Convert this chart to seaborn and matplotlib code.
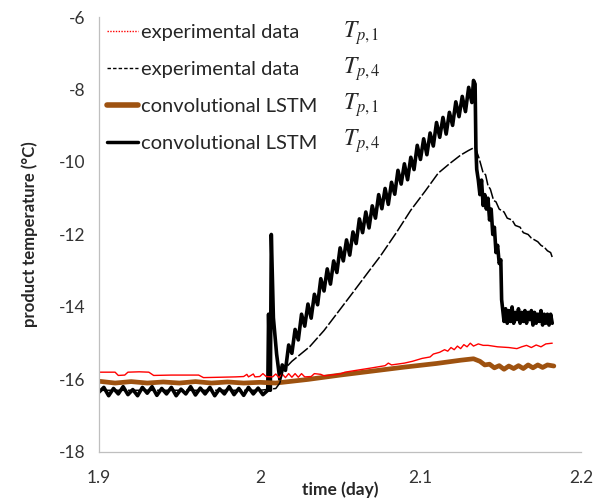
import numpy as np
import pandas as pd
import matplotlib
matplotlib.use("Agg")
import matplotlib.pyplot as plt
import seaborn as sns
from matplotlib.lines import Line2D

# ---------------- data ----------------
# experimental data T_p,1 (red)
exp1_t = [1.900, 1.910, 1.912, 1.916, 1.918, 1.925, 1.931, 1.934, 1.945, 1.955, 1.962, 1.965,
          1.975, 1.985, 1.990, 1.992, 1.993, 1.996, 1.997, 2.000, 2.002, 2.004, 2.008, 2.010,
          2.012, 2.014, 2.016, 2.018, 2.020, 2.022, 2.024, 2.026, 2.028, 2.032, 2.034, 2.038,
          2.040, 2.050, 2.053, 2.060, 2.070, 2.078, 2.080, 2.082, 2.090, 2.095, 2.101, 2.106,
          2.108, 2.112, 2.115, 2.117, 2.119, 2.121, 2.123, 2.125, 2.127, 2.129, 2.131, 2.133,
          2.136, 2.139, 2.142, 2.148, 2.155, 2.160, 2.163, 2.166, 2.169, 2.172, 2.175, 2.178,
          2.182]
exp1_v = [-15.80, -15.80, -15.89, -15.88, -15.80, -15.79, -15.80, -15.89, -15.88, -15.88, -15.88, -15.95,
          -15.94, -15.93, -15.92, -15.86, -15.93, -15.85, -15.93, -15.92, -15.84, -15.92, -15.93, -15.85,
          -15.95, -15.85, -15.95, -15.84, -15.94, -15.84, -15.94, -15.84, -15.93, -15.92, -15.84, -15.86,
          -15.90, -15.85, -15.80, -15.75, -15.68, -15.62, -15.55, -15.60, -15.55, -15.50, -15.42, -15.38,
          -15.30, -15.25, -15.18, -15.22, -15.12, -15.18, -15.08, -15.15, -15.04, -15.10, -15.00, -15.08,
          -15.02, -15.06, -15.06, -15.10, -15.12, -15.15, -15.10, -15.06, -15.12, -15.05, -15.10, -15.02,
          -15.00]

# experimental data T_p,4 (thin black)
exp4_t = [1.900, 1.950, 2.000, 2.010, 2.0125, 2.0146, 2.020, 2.031, 2.040, 2.046, 2.058, 2.069,
          2.075, 2.085, 2.094, 2.103, 2.111, 2.118, 2.125, 2.130, 2.134, 2.1365, 2.139, 2.1405,
          2.142, 2.1435, 2.1455, 2.147, 2.149, 2.152, 2.154, 2.157, 2.159, 2.162, 2.164, 2.167,
          2.169, 2.171, 2.173, 2.175, 2.177, 2.179, 2.181, 2.182]
exp4_v = [-16.30, -16.30, -16.30, -16.25, -16.10, -15.75, -15.50, -15.10, -14.65, -14.30, -13.60, -12.95,
          -12.60, -11.95, -11.33, -10.80, -10.31, -10.05, -9.81, -9.68, -9.59, -9.90, -10.30, -10.35,
          -10.65, -10.75, -11.06, -11.10, -11.30, -11.38, -11.55, -11.60, -11.75, -11.80, -11.95, -12.00,
          -12.10, -12.15, -12.20, -12.30, -12.35, -12.45, -12.50, -12.63]

# convolutional LSTM T_p,1 (brown)
lstm1_t = [1.900, 1.910, 1.920, 1.930, 1.940, 1.950, 1.960, 1.970, 1.980, 1.990, 2.000, 2.010,
           2.030, 2.050, 2.070, 2.090, 2.110, 2.125, 2.133, 2.137, 2.140, 2.143, 2.146, 2.149,
           2.152, 2.155, 2.158, 2.161, 2.164, 2.167, 2.170, 2.173, 2.176, 2.179, 2.183]
lstm1_v = [-16.05, -16.10, -16.06, -16.10, -16.07, -16.10, -16.06, -16.10, -16.07, -16.10, -16.08, -16.10,
           -16.00, -15.88, -15.77, -15.66, -15.56, -15.47, -15.43, -15.50, -15.60, -15.58, -15.68, -15.62,
           -15.72, -15.63, -15.70, -15.62, -15.70, -15.60, -15.68, -15.60, -15.67, -15.60, -15.63]

# convolutional LSTM T_p,4 (thick black), in segments
lstm4_flat_t = [1.900, 1.903, 1.906, 1.909, 1.912, 1.915, 1.918, 1.921, 1.924, 1.927, 1.930, 1.933,
                1.936, 1.939, 1.942, 1.945, 1.948, 1.951, 1.954, 1.957, 1.960, 1.963, 1.966, 1.969,
                1.972, 1.975, 1.978, 1.981, 1.984, 1.987, 1.990, 1.993, 1.996, 1.999, 2.002]
lstm4_flat_v = [-16.35, -16.22, -16.45, -16.25, -16.40, -16.20, -16.42, -16.28, -16.45, -16.22, -16.38, -16.20,
                -16.44, -16.25, -16.40, -16.22, -16.45, -16.27, -16.40, -16.20, -16.43, -16.24, -16.40, -16.22,
                -16.45, -16.26, -16.40, -16.20, -16.42, -16.25, -16.44, -16.22, -16.40, -16.24, -16.42]
lstm4_spike_t = [2.005, 2.0055, 2.0062, 2.0066, 2.0072, 2.0085, 2.0105, 2.0125]
lstm4_spike_v = [-16.30, -14.20, -15.80, -16.30, -12.00, -14.30, -15.30, -16.00]
lstm4_rise_t = [2.014, 2.016, 2.018, 2.020, 2.022, 2.024, 2.026, 2.028, 2.030, 2.032,
                2.034, 2.036, 2.038, 2.040, 2.042, 2.044, 2.046, 2.048, 2.050, 2.052,
                2.054, 2.056, 2.058, 2.060, 2.062, 2.064, 2.066, 2.068, 2.070, 2.072,
                2.074, 2.076, 2.078, 2.080, 2.082, 2.084, 2.086, 2.088, 2.090, 2.092,
                2.094, 2.096, 2.098, 2.100, 2.102, 2.104, 2.106, 2.108, 2.110, 2.112,
                2.114, 2.116, 2.118, 2.120, 2.122, 2.124, 2.126, 2.128, 2.130, 2.132]
lstm4_rise_v = [-15.60, -15.75, -15.05, -15.28, -14.62, -14.91, -14.20, -14.53, -13.92, -14.31,
                -13.65, -13.94, -13.22, -13.56, -12.95, -13.37, -12.73, -13.05, -12.37, -12.73,
                -12.15, -12.57, -11.93, -12.25, -11.57, -11.95, -11.38, -11.82, -11.21, -11.55,
                -10.90, -11.29, -10.73, -11.17, -10.56, -10.89, -10.23, -10.61, -10.05, -10.49,
                -9.87, -10.21, -9.54, -9.93, -9.36, -9.80, -9.20, -9.56, -8.91, -9.32,
                -8.77, -9.23, -8.63, -8.99, -8.34, -8.75, -8.19, -8.61, -7.94, -8.36]
lstm4_drop_t = [2.133, 2.134, 2.1345, 2.135, 2.136, 2.137, 2.138, 2.139, 2.140, 2.141,
                2.142, 2.143, 2.144, 2.145, 2.146, 2.147, 2.148, 2.149, 2.150, 2.1505]
lstm4_drop_v = [-7.75, -7.85, -9.60, -10.20, -10.50, -10.90, -10.50, -11.20, -10.90, -11.30,
                -11.00, -11.60, -11.30, -12.00, -11.80, -12.50, -12.30, -12.80, -12.70, -13.80]
lstm4_tail_t = [2.151, 2.152, 2.153, 2.154, 2.155, 2.156, 2.157, 2.158,
                2.159, 2.160, 2.161, 2.162, 2.163, 2.164, 2.165, 2.166,
                2.167, 2.168, 2.169, 2.170, 2.171, 2.172, 2.173, 2.174,
                2.175, 2.176, 2.177, 2.178, 2.179, 2.180, 2.181, 2.182]
lstm4_tail_v = [-14.00, -14.40, -14.05, -14.45, -14.10, -14.40, -14.00, -14.45,
                -14.15, -14.35, -14.05, -14.45, -14.15, -14.40, -14.10, -14.45,
                -14.15, -14.35, -14.10, -14.50, -14.15, -14.45, -14.20, -14.40,
                -14.10, -14.50, -14.20, -14.45, -14.20, -14.50, -14.20, -14.45]

lstm4_t = lstm4_flat_t + lstm4_spike_t + lstm4_rise_t + lstm4_drop_t + lstm4_tail_t
lstm4_v = lstm4_flat_v + lstm4_spike_v + lstm4_rise_v + lstm4_drop_v + lstm4_tail_v

legend_labels = ["experimental data", "experimental data", "convolutional LSTM", "convolutional LSTM"]
math_labels = [r"$T_{p,1}$", r"$T_{p,4}$", r"$T_{p,1}$", r"$T_{p,4}$"]
x_ticks = [1.9, 2.0, 2.1, 2.2]
x_tick_labels = ["1.9", "2", "2.1", "2.2"]
y_ticks = [-18, -16, -14, -12, -10, -8, -6]

# ---------------- plot ----------------
sns.set_style("white")
plt.rcParams["font.family"] = ["Lato", "DejaVu Sans"]
plt.rcParams["mathtext.fontset"] = "stix"

BROWN = "#9E5210"
RED = "#FF0000"

fig = plt.figure(figsize=(6.15, 5.01), dpi=100)
ax = fig.add_axes([0.161, 0.098, 0.784, 0.868])

kw = dict(ax=ax, estimator=None, sort=False, legend=False)
sns.lineplot(x=lstm4_t, y=lstm4_v, color="black", linewidth=2.6, **kw)
sns.lineplot(x=lstm1_t, y=lstm1_v, color=BROWN, linewidth=3.4, **kw)
sns.lineplot(x=exp1_t, y=exp1_v, color=RED, linewidth=1.0, **kw)
sns.lineplot(x=exp4_t, y=exp4_v, color="black", linewidth=1.1, linestyle=(0, (8, 1.5)), **kw)

ax.set_xlim(1.9, 2.2)
ax.set_ylim(-18, -6)
ax.set_xticks(x_ticks)
ax.set_xticklabels(x_tick_labels)
ax.set_yticks(y_ticks)
ax.set_yticklabels([str(v) for v in y_ticks])

for s in ["top", "right"]:
    ax.spines[s].set_visible(False)
for s in ["left", "bottom"]:
    ax.spines[s].set_color("#BFBFBF")
    ax.spines[s].set_linewidth(0.9)

ax.tick_params(axis="both", direction="out", length=4, width=0.9, color="#BFBFBF",
               labelsize=12.5, labelcolor="#333333")
ax.tick_params(axis="y", pad=6)
ax.tick_params(axis="x", pad=9)

ax.set_ylabel("product temperature (°C)", fontsize=12, fontweight="bold", labelpad=15)
ax.set_xlabel("time (day)", fontsize=12.5, fontweight="bold", labelpad=-3)

handles = [
    Line2D([], [], color=RED, lw=1.0, ls=(0, (1, 1))),
    Line2D([], [], color="black", lw=1.0, ls=(0, (2.5, 1.5))),
    Line2D([], [], color=BROWN, lw=4),
    Line2D([], [], color="black", lw=2.5),
]
ax.legend(handles, legend_labels, loc="upper left", bbox_to_anchor=(0.016, 0.985),
          frameon=False, fontsize=14.5, handlelength=1.55, handletextpad=0.15,
          labelspacing=1.0, borderpad=0, borderaxespad=0)

math_y = [0.952, 0.869, 0.786, 0.703]
for lab, yy in zip(math_labels, math_y):
    ax.text(0.506, yy, lab, transform=ax.transAxes, fontsize=17, va="baseline", ha="left")

fig.savefig("out.png", dpi=100)
